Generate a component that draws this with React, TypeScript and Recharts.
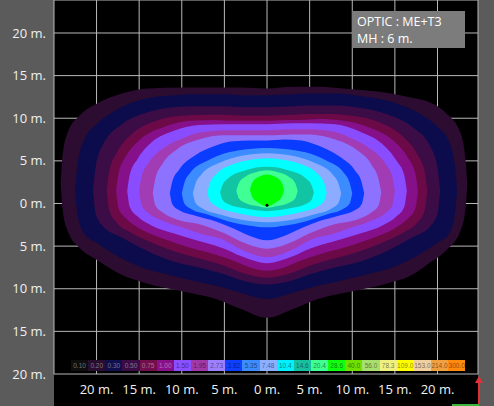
import React from "react";
import {
  ComposedChart,
  Area,
  XAxis,
  YAxis,
  CartesianGrid,
  Legend,
  ReferenceDot,
} from "recharts";

const TICKS = [-20, -15, -10, -5, 0, 5, 10, 15, 20];

const LEGEND_VALUES = [
  "0.10", "0.20", "0.30", "0.50", "0.75", "1.00", "1.50", "1.95", "2.73",
  "3.82", "5.35", "7.48", "10.4", "14.6", "20.4", "28.6", "40.0", "56.0",
  "78.3", "109.0", "153.0", "214.0", "300.0",
];
const LEGEND_COLORS = [
  "#0e0e0e", "#2a0e30", "#10104e", "#3a0e44", "#720e4c", "#8a108a",
  "#8a50ff", "#a038a8", "#9c80ff", "#1040ff", "#3c8cff", "#8cb0ff",
  "#00f0ff", "#18c0a0", "#40ff90", "#10ff10", "#70e000", "#a8e070",
  "#f0f080", "#ffff00", "#f0d0a0", "#f0a040", "#ff8a10",
];

// isolux contours, outermost first. each point: [x m, low y m, high y m]
const C020 = [
  [-24.2, 2.5, 2.5], [-24.0, -0.5, 5.5], [-23.4, -3.2, 8.3], [-22.0, -5.2, 10.3],
  [-20.0, -6.6, 11.7], [-17.0, -8.4, 12.9], [-14.0, -9.4, 13.5], [-10.0, -10.3, 13.6],
  [-6.0, -11.2, 13.6], [-3.0, -12.4, 13.6], [0, -13.4, 13.5], [3.0, -12.4, 13.7],
  [6.0, -11.2, 13.7], [10.0, -10.3, 13.4], [14.0, -9.4, 13.0], [17.0, -8.4, 12.4],
  [19.0, -7.0, 11.9], [21.0, -5.5, 10.6], [22.7, -3.2, 8.3], [23.3, -0.5, 5.0],
  [23.5, 2.3, 2.3],
];
const C030 = [
  [-22.5, 1.5, 1.5], [-22.2, -1.5, 4.8], [-21.4, -3.6, 7.6], [-20.0, -4.6, 9.3],
  [-18.0, -5.9, 10.8], [-15.0, -7.4, 12.1], [-11.0, -8.5, 12.7], [-8.0, -9.2, 12.8],
  [-5.0, -9.9, 12.8], [-3.0, -10.5, 12.7], [0, -11.2, 12.7], [3.0, -10.5, 12.8],
  [5.0, -9.9, 12.9], [8.0, -9.2, 12.9], [11.0, -8.5, 12.6], [15.0, -7.4, 11.8],
  [18.0, -5.9, 10.5], [20.0, -4.6, 9.0], [21.3, -3.6, 7.4], [22.0, -1.5, 4.8],
  [22.3, 1.5, 1.5],
];
const C050 = [
  [-20.4, 1.5, 1.5], [-20.1, -1.2, 4.3], [-19.3, -2.6, 6.8], [-17.0, -4.0, 9.3],
  [-14.0, -5.6, 10.7], [-11.0, -6.8, 11.3], [-8.0, -7.5, 11.4], [-5.0, -8.3, 11.4],
  [-3.0, -9.0, 11.3], [0, -9.5, 11.3], [3.0, -9.0, 11.4], [5.0, -8.3, 11.5],
  [8.0, -7.5, 11.5], [11.0, -6.8, 11.2], [14.0, -5.6, 10.5], [17.0, -4.0, 9.0],
  [19.2, -2.6, 6.6], [20.0, -1.2, 4.2], [20.3, 1.5, 1.5],
];
const C075 = [
  [-18.8, 1.5, 1.5], [-18.5, -0.8, 3.8], [-17.6, -2.3, 6.0], [-16.0, -3.4, 8.0],
  [-13.0, -4.8, 9.7], [-10.0, -5.9, 10.3], [-7.0, -6.7, 10.4], [-5.0, -7.3, 10.4],
  [-3.0, -8.1, 10.3], [0, -8.7, 10.3], [3.0, -8.1, 10.4], [5.0, -7.3, 10.5],
  [7.0, -6.7, 10.5], [10.0, -5.9, 10.3], [13.0, -4.8, 9.6], [16.0, -3.4, 7.8],
  [17.6, -2.3, 5.8], [18.5, -0.8, 3.7], [18.8, 1.5, 1.5],
];
const C100 = [
  [-17.7, 1.5, 1.5], [-17.4, -0.6, 3.6], [-16.5, -1.8, 5.6], [-15.0, -2.9, 7.4],
  [-12.0, -4.2, 9.0], [-9.0, -5.2, 9.7], [-6.0, -6.0, 9.8], [-4.0, -6.7, 9.7],
  [-2.0, -7.5, 9.7], [0, -7.9, 9.7], [2.0, -7.5, 9.8], [4.0, -6.7, 9.8],
  [6.0, -6.0, 9.9], [9.0, -5.2, 9.7], [12.0, -4.2, 8.9], [15.0, -2.9, 7.2],
  [16.5, -1.8, 5.4], [17.4, -0.6, 3.5], [17.7, 1.5, 1.5],
];
const C150 = [
  [-16.4, 1.5, 1.5], [-16.1, -0.4, 3.4], [-15.2, -1.5, 5.2], [-13.5, -2.6, 7.2],
  [-11.0, -3.5, 8.5], [-8.0, -4.4, 9.2], [-5.0, -5.3, 9.3], [-3.0, -6.2, 9.3],
  [0, -7.0, 9.3], [3.0, -6.2, 9.4], [5.0, -5.3, 9.4], [8.0, -4.4, 9.3],
  [11.0, -3.5, 8.4], [13.5, -2.6, 7.0], [15.2, -1.5, 5.0], [16.1, -0.4, 3.3],
  [16.4, 1.5, 1.5],
];
const C195 = [
  [-15.0, 1.5, 1.5], [-14.7, -0.2, 3.2], [-13.8, -1.2, 4.9], [-12.0, -2.1, 6.6],
  [-10.0, -2.8, 7.6], [-8.0, -3.5, 8.3], [-5.0, -4.3, 8.6], [-3.0, -5.4, 8.6],
  [0, -6.3, 8.6], [3.0, -5.4, 8.7], [5.0, -4.3, 8.7], [8.0, -3.5, 8.4],
  [10.0, -2.8, 7.6], [12.0, -2.1, 6.5], [13.8, -1.2, 4.8], [14.7, -0.2, 3.1],
  [15.0, 1.5, 1.5],
];
const C273 = [
  [-13.4, 1.3, 1.3], [-13.1, -0.2, 2.9], [-12.3, -1.0, 4.6], [-10.5, -1.9, 6.4],
  [-8.0, -2.4, 7.5], [-5.0, -3.5, 8.0], [-3.0, -4.5, 8.0], [0, -5.3, 8.0],
  [3.0, -4.5, 8.1], [5.0, -3.5, 8.1], [8.0, -2.4, 7.5], [10.5, -1.9, 6.3],
  [12.3, -1.0, 4.5], [13.1, -0.2, 2.8], [13.4, 1.3, 1.3],
];
const C382 = [
  [-11.4, 1.2, 1.2], [-11.1, -0.1, 2.6], [-10.3, -0.8, 4.0], [-8.5, -1.4, 5.6],
  [-6.0, -2.1, 6.8], [-4.0, -2.9, 7.3], [-2.0, -3.8, 7.4], [0, -4.3, 7.4],
  [2.0, -3.8, 7.5], [4.0, -2.9, 7.4], [6.0, -2.1, 6.8], [8.5, -1.4, 5.5],
  [10.3, -0.8, 3.9], [11.1, -0.1, 2.5], [11.4, 1.2, 1.2],
];
const C535 = [
  [-10.0, 1.2, 1.2], [-9.7, 0.0, 2.4], [-9.0, -0.6, 3.6], [-7.0, -1.3, 5.0],
  [-4.5, -2.1, 6.0], [-2.0, -2.6, 6.4], [0, -2.8, 6.5], [2.0, -2.6, 6.4],
  [4.5, -2.1, 6.0], [7.0, -1.3, 5.0], [9.0, -0.6, 3.6], [9.7, 0.0, 2.4],
  [10.0, 1.2, 1.2],
];
const C748 = [
  [-8.7, 1.2, 1.2], [-8.4, 0.1, 2.3], [-7.7, -0.5, 3.4], [-5.5, -1.3, 4.8],
  [-3.0, -1.9, 5.6], [0, -2.2, 5.9], [3.0, -1.9, 5.6], [5.5, -1.3, 4.8],
  [7.7, -0.5, 3.4], [8.4, 0.1, 2.3], [8.7, 1.2, 1.2],
];
const C104 = [
  [-7.0, 1.3, 1.3], [-6.7, 0.3, 2.4], [-6.0, -0.3, 3.4], [-4.0, -1.0, 4.6],
  [-2.0, -1.4, 5.1], [0, -1.6, 5.3], [2.0, -1.4, 5.1], [4.0, -1.0, 4.6],
  [6.0, -0.3, 3.4], [6.7, 0.3, 2.4], [7.0, 1.3, 1.3],
];
const C146 = [
  [-5.5, 1.3, 1.3], [-5.2, 0.4, 2.2], [-4.5, -0.1, 3.0], [-2.5, -0.6, 3.9],
  [0, -0.9, 4.3], [2.5, -0.6, 3.9], [4.5, -0.1, 3.0], [5.2, 0.4, 2.2],
  [5.5, 1.3, 1.3],
];
const C204 = [
  [-3.6, 1.5, 1.5], [-3.3, 0.6, 2.4], [-2.6, 0.1, 3.1], [-1.2, -0.3, 3.7],
  [0, -0.5, 3.9], [1.2, -0.3, 3.7], [2.6, 0.1, 3.1], [3.3, 0.6, 2.4],
  [3.6, 1.5, 1.5],
];
const C286 = [
  [-2.0, 1.6, 1.6], [-1.7, 0.7, 2.5], [-1.0, 0.1, 3.1], [0, -0.3, 3.4],
  [1.0, 0.1, 3.1], [1.7, 0.7, 2.5], [2.0, 1.6, 1.6],
];

const LEVELS = [
  { lux: "0.20", color: "#2c0c30", pts: C020 },
  { lux: "0.30", color: "#0c0c4c", pts: C030 },
  { lux: "0.50", color: "#3c0c46", pts: C050 },
  { lux: "0.75", color: "#6c0a48", pts: C075 },
  { lux: "1.00", color: "#86108a", pts: C100 },
  { lux: "1.50", color: "#8a4cff", pts: C150 },
  { lux: "1.95", color: "#a23cb4", pts: C195 },
  { lux: "2.73", color: "#8c72ff", pts: C273 },
  { lux: "3.82", color: "#0a3cff", pts: C382 },
  { lux: "5.35", color: "#3c8cff", pts: C535 },
  { lux: "7.48", color: "#8cacff", pts: C748 },
  { lux: "10.4", color: "#00ffff", pts: C104 },
  { lux: "14.6", color: "#10c4a4", pts: C146 },
  { lux: "20.4", color: "#40ff94", pts: C204 },
  { lux: "28.6", color: "#00ff00", pts: C286 },
];

const FONT = "'Open Sans', 'Noto Sans', sans-serif";

function ScaleBar() {
  return (
    <div style={{ display: "flex" }}>
      {LEGEND_VALUES.map((v, i) => (
        <div
          key={v}
          style={{
            width: 17.15,
            height: 11,
            background: LEGEND_COLORS[i],
            color: i < 6 ? "rgba(255,255,255,0.4)" : "rgba(0,0,0,0.5)",
            fontSize: 6.5,
            lineHeight: "11px",
            textAlign: "center",
            fontFamily: "Arial, sans-serif",
            whiteSpace: "nowrap",
            overflow: "hidden",
          }}
        >
          {v}
        </div>
      ))}
    </div>
  );
}

const fmt = (v: number) => `${Math.abs(v)} m.`;

export default function App() {
  return (
    <div
      style={{
        position: "absolute",
        left: 0,
        top: 0,
        width: 494,
        height: 406,
        background: "#5b5b5b",
        overflow: "hidden",
        fontFamily: FONT,
      }}
    >
      <div
        style={{
          position: "absolute",
          left: 54,
          top: 0,
          width: 424,
          height: 406,
          background: "#000",
        }}
      />
      <ComposedChart
        width={494}
        height={406}
        margin={{ top: 0, right: 16, bottom: 0, left: 0 }}
      >
        <XAxis
          type="number"
          dataKey="x"
          domain={[-24.99, 24.75]}
          allowDataOverflow
          ticks={TICKS}
          tickFormatter={fmt}
          height={32}
          axisLine={false}
          tickLine={false}
          interval={0}
          tick={{ fill: "#f0f0f0", fontSize: 13, fontFamily: FONT, dy: 3 }}
        />
        <YAxis
          type="number"
          domain={[-20, 23.87]}
          allowDataOverflow
          ticks={TICKS}
          tickFormatter={fmt}
          width={54}
          axisLine={false}
          tickLine={false}
          interval={0}
          tick={{ fill: "#f0f0f0", fontSize: 13, fontFamily: FONT }}
        />
        {LEVELS.map((l) => (
          <Area
            key={l.lux}
            name={l.lux}
            data={l.pts.map(([x, lo, hi]) => ({ x, r: [lo, hi] }))}
            dataKey="r"
            type="monotone"
            stroke="none"
            fill={l.color}
            fillOpacity={1}
            dot={false}
            activeDot={false}
            isAnimationActive={false}
          />
        ))}
        <CartesianGrid stroke="#b8b8b8" strokeWidth={1} />
        <ReferenceDot x={0} y={-0.2} r={1.5} fill="#000" stroke="none" />
        <Legend
          layout="horizontal"
          verticalAlign="middle"
          align="center"
          content={() => <ScaleBar />}
          wrapperStyle={{ left: 71, top: 360, width: 395, height: 11 }}
        />
      </ComposedChart>
      <div
        style={{
          position: "absolute",
          left: 352,
          top: 11,
          width: 113,
          height: 37,
          paddingLeft: 5,
          paddingTop: 2,
          boxSizing: "border-box",
          background: "#7c7c7c",
          color: "#fff",
          fontSize: 12.5,
          lineHeight: "17px",
        }}
      >
        <div>OPTIC : ME+T3</div>
        <div>MH : 6 m.</div>
      </div>
      <div
        style={{
          position: "absolute",
          left: 478,
          top: 382,
          width: 2,
          height: 24,
          background: "#e0303a",
        }}
      />
      <div
        style={{
          position: "absolute",
          left: 475,
          top: 376,
          width: 0,
          height: 0,
          borderLeft: "4px solid transparent",
          borderRight: "4px solid transparent",
          borderBottom: "7px solid #e0303a",
        }}
      />
      <div
        style={{
          position: "absolute",
          left: 452,
          top: 404,
          width: 27,
          height: 2,
          background: "#3cb43c",
        }}
      />
    </div>
  );
}
